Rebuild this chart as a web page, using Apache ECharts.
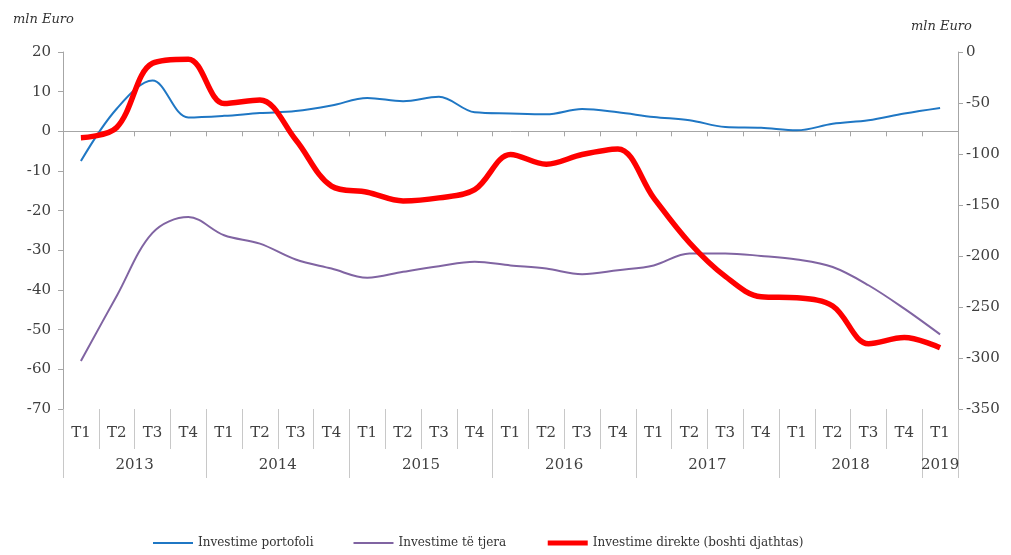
<!DOCTYPE html>
<html lang="sq">
<head>
    <meta charset="UTF-8">
    <title>Investimet</title>
    <script src="https://cdn.jsdelivr.net/npm/echarts@6/dist/echarts.min.js"></script>
    <style>
        html, body { margin: 0; padding: 0; background: #fff; }
        #main { width: 1011px; height: 555px; }
    </style>
</head>
<body>
<div id="main"></div>
<script>
    // tremujoret (kategorite e boshtit x)
    var quarters = ['T1','T2','T3','T4','T1','T2','T3','T4','T1','T2','T3','T4',
        'T1','T2','T3','T4','T1','T2','T3','T4','T1','T2','T3','T4','T1']
    var years = ['2013','2014','2015','2016','2017','2018','2019']
    // mesi i çdo viti ne boshtin e viteve (0..25) dhe kufijte mes tyre
    var yearPos = [2, 6, 10, 14, 18, 22, 24.5]
    var yearBounds = [0, 4, 8, 12, 16, 20, 24, 25]

    // mln Euro
    var portofoli = [-7.5, 5.7, 12.8, 3.5, 3.9, 4.6, 5.1, 6.5, 8.4, 7.6, 8.7, 4.8,
        4.5, 4.3, 5.6, 4.8, 3.6, 2.8, 1.1, 0.9, 0.25, 1.9, 2.8, 4.5, 5.9]
    var tjera = [-57.9, -41.5, -25.6, -21.6, -26.2, -28.3, -32.3, -34.6, -36.9, -35.4, -34, -32.9,
        -33.8, -34.6, -36, -35, -33.8, -30.8, -30.8, -31.4, -32.3, -34.2, -38.8, -44.7, -51.2]
    var direkte = [-84, -74, -11, -7, -50.5, -47, -86, -131.5, -137.5, -146, -143, -135,
        -100.5, -110, -100.5, -95, -143, -187, -220, -240, -241, -249, -286, -280, -290]

    var font = 'DejaVu Serif'
    var gray = '#a6a6a6'
    var txt = '#404040'

    var chart = echarts.init(document.getElementById('main'))
    var option = {
        animation: false,
        title: [
            { text: 'mln Euro', left: 8, top: 8,
              textStyle: { fontFamily: font, fontStyle: 'italic', fontWeight: 'normal', fontSize: 13, color: '#333' } },
            { text: 'mln Euro', left: 906, top: 15,
              textStyle: { fontFamily: font, fontStyle: 'italic', fontWeight: 'normal', fontSize: 13, color: '#333' } }
        ],
        grid: { left: 63, right: 53, top: 52, bottom: 146 },
        legend: {
            left: 147, bottom: 1,
            itemWidth: 40, itemHeight: 10, itemGap: 39,
            itemStyle: { opacity: 0 },
            textStyle: { fontFamily: font, fontSize: 12, color: '#333' },
            data: [
                { name: 'Investime portofoli', lineStyle: { width: 2 } },
                { name: 'Investime të tjera', lineStyle: { width: 2 } },
                { name: 'Investime direkte (boshti djathtas)', lineStyle: { width: 5 } }
            ]
        },
        xAxis: [
            {   // vija e zeros me vizat
                type: 'category', data: quarters, position: 'bottom',
                axisLine: { onZero: true, onZeroAxisIndex: 0, lineStyle: { color: gray } },
                axisTick: { show: true, interval: 0, length: 5, lineStyle: { color: gray } },
                axisLabel: { show: false }
            },
            {   // etiketat T1..T4
                type: 'category', data: quarters, position: 'bottom',
                axisLine: { show: false, onZero: false },
                axisTick: { show: true, interval: 0, length: 40, lineStyle: { color: '#c8c8c8' } },
                axisLabel: { interval: 0, margin: 17, fontFamily: font, fontSize: 15, color: txt }
            },
            {   // vitet
                type: 'value', min: 0, max: 25, position: 'bottom',
                axisLine: { show: false, onZero: false },
                splitLine: { show: false },
                axisTick: { show: true, length: 69, customValues: yearBounds, lineStyle: { color: '#c8c8c8' } },
                axisLabel: {
                    margin: 49, fontFamily: font, fontSize: 15, color: txt,
                    customValues: yearPos,
                    formatter: function (v) { return years[yearPos.indexOf(v)] || '' }
                }
            }
        ],
        yAxis: [
            {
                type: 'value', min: -70, max: 20, interval: 10,
                axisLine: { show: true, lineStyle: { color: gray } },
                axisTick: { show: true, length: 5, lineStyle: { color: gray } },
                splitLine: { show: false },
                axisLabel: { margin: 12, fontFamily: font, fontSize: 15, color: txt }
            },
            {
                type: 'value', min: -350, max: 0, interval: 50, position: 'right',
                axisLine: { show: true, lineStyle: { color: gray } },
                axisTick: { show: true, length: 5, lineStyle: { color: gray } },
                splitLine: { show: false },
                axisLabel: { margin: 8, fontFamily: font, fontSize: 15, color: txt }
            }
        ],
        series: [
            {
                name: 'Investime portofoli', type: 'line', data: portofoli,
                smooth: 0.35, symbol: 'none', yAxisIndex: 0,
                lineStyle: { color: '#1f77c4', width: 2 }, itemStyle: { color: '#1f77c4' }
            },
            {
                name: 'Investime të tjera', type: 'line', data: tjera,
                smooth: 0.35, symbol: 'none', yAxisIndex: 0,
                lineStyle: { color: '#8064a2', width: 2 }, itemStyle: { color: '#8064a2' }
            },
            {
                name: 'Investime direkte (boshti djathtas)', type: 'line', data: direkte,
                smooth: 0.35, symbol: 'none', yAxisIndex: 1,
                lineStyle: { color: '#ff0000', width: 5.5 }, itemStyle: { color: '#ff0000' }
            }
        ]
    }
    chart.setOption(option)
</script>
</body>
</html>
